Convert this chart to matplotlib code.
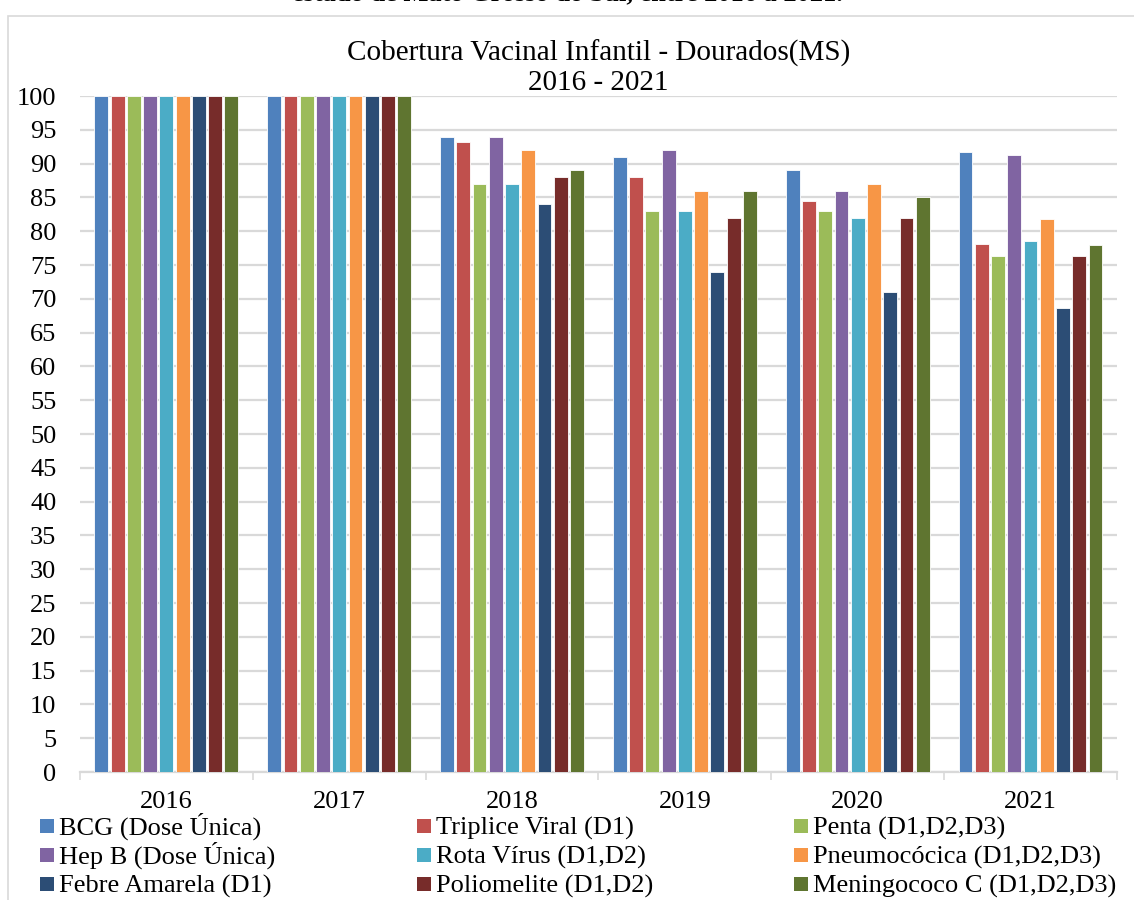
import numpy as np
import matplotlib.pyplot as plt
from matplotlib.patches import Rectangle

plt.rcParams['font.family'] = ['Liberation Serif', 'DejaVu Serif']

# dados
anos = ['2016', '2017', '2018', '2019', '2020', '2021']
vacinas = ['BCG (Dose Única)', 'Triplice Viral (D1)', 'Penta (D1,D2,D3)',
           'Hep B (Dose Única)', 'Rota Vírus (D1,D2)', 'Pneumocócica (D1,D2,D3)',
           'Febre Amarela (D1)', 'Poliomelite (D1,D2)', 'Meningococo C (D1,D2,D3)']
bcg = [100, 100, 94, 91, 89, 91.7]
triplice = [100, 100, 93.2, 88, 84.5, 78.1]
penta = [100, 100, 87, 83, 83, 76.3]
hepb = [100, 100, 94, 92, 86, 91.3]
rota = [100, 100, 87, 83, 82, 78.5]
pneumo = [100, 100, 92, 86, 87, 81.8]
febre = [100, 100, 84, 74, 71, 68.6]
polio = [100, 100, 88, 82, 82, 76.4]
mening = [100, 100, 89, 86, 85, 77.9]
series = [bcg, triplice, penta, hepb, rota, pneumo, febre, polio, mening]
cores = ['#4F81BD', '#C0504D', '#9BBB59', '#8064A2', '#4BACC6',
         '#F79646', '#2C4D75', '#772C2A', '#5F7530']

W, H = 1134, 900
fig = plt.figure(figsize=(W / 100, H / 100), dpi=100)
ax = fig.add_axes([0.0705, 0.1422, 0.9145, 0.7511])

# moldura cinza do grafico
fig.patches.append(Rectangle((8/W, -0.1), 1.2, 1 - 16/H + 0.1, transform=fig.transFigure,
                             fill=False, edgecolor='#D9D9D9', linewidth=1.2))
# titulo cortado no topo
fig.text(0.5, 1.007, 'estado de Mato Grosso do Sul, entre 2016 a 2021.', ha='center', va='center',
         fontsize=19, fontweight='bold')

x = np.arange(len(anos))
passo = 0.094
larg = 0.08
for i, (vals, cor) in enumerate(zip(series, cores)):
    ax.bar(x + (i - 4) * passo, vals, width=larg, color=cor, edgecolor='white',
           linewidth=0.6, zorder=3)

ax.set_xlim(-0.5, len(anos) - 0.5)
ax.set_ylim(0, 100)
ax.set_yticks(np.arange(0, 101, 5))
ax.yaxis.grid(True, color='#D9D9D9', linewidth=1.6, zorder=0)
ax.set_xticks(x)
ax.set_xticklabels(anos)
ax.set_xticks(np.arange(-0.5, len(anos)), minor=True)
ax.tick_params(axis='x', which='major', length=0, pad=14, labelsize=19)
ax.tick_params(axis='x', which='minor', length=6, color='#D9D9D9', width=1.2)
ax.tick_params(axis='y', length=0, pad=17, labelsize=19)
for s in ['top', 'right', 'left']:
    ax.spines[s].set_visible(False)
ax.spines['bottom'].set_color('#D9D9D9')
ax.spines['bottom'].set_linewidth(1.6)
ax.set_title('Cobertura Vacinal Infantil - Dourados(MS)\n2016 - 2021', fontsize=21,
             linespacing=1.15, pad=2)

# legenda feita a mao: 3 linhas x 3 colunas, linhas com altura igual
col_x = [40, 417, 794]
lin_base = [835, 864, 893]
for k, (nome, cor) in enumerate(zip(vacinas, cores)):
    cx = col_x[k % 3]
    by = lin_base[k // 3]
    fig.patches.append(Rectangle((cx / W, 1 - (by - 2) / H), 14 / W, 14 / H,
                                 transform=fig.transFigure, facecolor=cor, edgecolor='none'))
    fig.text((cx + 19) / W, 1 - by / H, nome, ha='left', va='baseline', fontsize=19)

fig.savefig('out.png', dpi=100)
